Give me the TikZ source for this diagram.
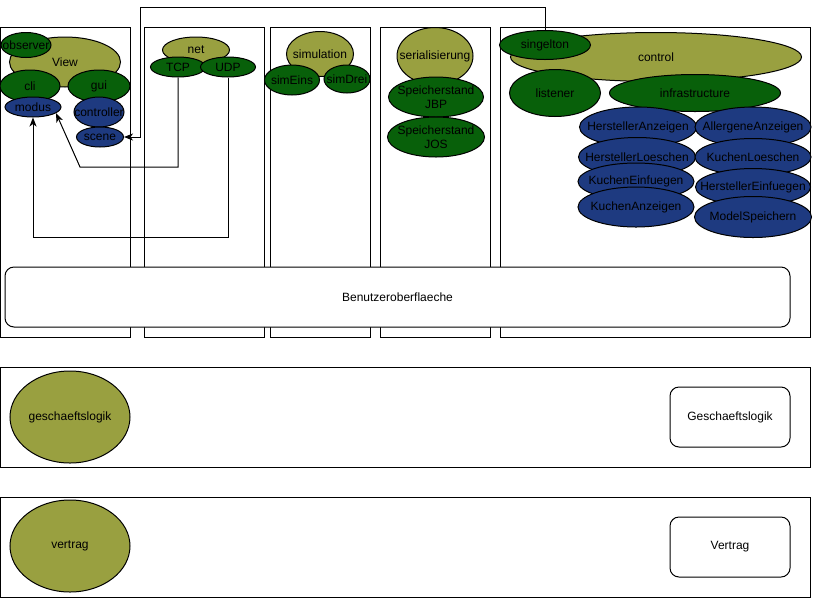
\documentclass[tikz,border=0pt]{standalone}
\usepackage{fontspec}
\setmainfont{Liberation Sans}
\usepackage{tikz}
\usetikzlibrary{arrows,arrows.meta,shapes,positioning}
\definecolor{pkolive}{RGB}{153,160,64}
\definecolor{pkgreen}{RGB}{8,96,10}
\definecolor{pkblue}{RGB}{30,58,128}
\tikzstyle{panel} = [draw, line width=1pt, anchor=north west, inner sep=0pt]
\tikzstyle{layerbox} = [draw, line width=1pt, rounded corners=9pt, fill=white, inner sep=0pt]
\tikzstyle{pkg} = [ellipse, draw, line width=1pt, inner sep=-30pt, align=center]
\tikzstyle{olivepkg} = [pkg, fill=pkolive]
\tikzstyle{greenpkg} = [pkg, fill=pkgreen]
\tikzstyle{bluepkg} = [pkg, fill=pkblue]
\tikzstyle{uses} = [line width=1pt,->,>={Stealth[length=9pt,width=7pt,inset=2.5pt]}]

\begin{document}
\begin{tikzpicture}[x=1pt, y=-1pt, font=\fontsize{12}{14}\selectfont]
\useasboundingbox (0,0) rectangle (813,598);

% Columns of the top layer
\node[panel, minimum width=130pt, minimum height=310pt] (viewcol) at (0,27) {};
\node[panel, minimum width=120pt, minimum height=310pt] (netcol) at (144,27) {};
\node[panel, minimum width=100pt, minimum height=310pt] (simcol) at (270,27) {};
\node[panel, minimum width=110pt, minimum height=310pt] (sercol) at (380,27) {};
\node[panel, minimum width=310pt, minimum height=310pt] (ctrlcol) at (500,27) {};
\node[layerbox, minimum width=785pt, minimum height=60pt] (ui) at (397.5,297) {Benutzeroberflaeche};

% View
\node[olivepkg, minimum width=111pt, minimum height=50pt] (view) at (65,62) {View};
\node[greenpkg, minimum width=50pt, minimum height=25pt] (observer) at (26,45) {observer};
\node[greenpkg, minimum width=60pt, minimum height=32pt] (cli) at (30,86) {cli};
\node[greenpkg, minimum width=62pt, minimum height=32pt] (gui) at (99,86) {gui};
\node[bluepkg, minimum width=56pt, minimum height=20pt] (modus) at (33,107) {modus};
\node[bluepkg, minimum width=50pt, minimum height=30pt] (controller) at (99,112) {controller};
\node[bluepkg, minimum width=47pt, minimum height=20pt] (scene) at (100,137) {scene};

% net
\node[olivepkg, minimum width=67pt, minimum height=26pt] (net) at (196,50) {net};
\node[greenpkg, minimum width=55pt, minimum height=20pt] (tcp) at (178,67) {TCP};
\node[greenpkg, minimum width=55pt, minimum height=20pt] (udp) at (228,67) {UDP};

% simulation
\node[olivepkg, minimum width=67pt, minimum height=45pt] (simulation) at (320,54) {simulation};
\node[greenpkg, minimum width=55pt, minimum height=30pt] (simeins) at (292,80) {simEins};
\node[greenpkg, minimum width=46pt, minimum height=28pt] (simdrei) at (347,79) {simDrei};

% serialisierung
\node[olivepkg, minimum width=76pt, minimum height=57pt] (serial) at (435,56) {serialisierung};
\node[greenpkg, minimum width=95pt, minimum height=40pt] (jbp) at (436,97) {Speicherstand\\JBP};
\node[greenpkg, minimum width=97pt, minimum height=40pt] (jos) at (436,137) {Speicherstand\\JOS};

% control
\node[olivepkg, minimum width=291pt, minimum height=49pt] (control) at (656,57) {control};
\node[greenpkg, minimum width=91pt, minimum height=29pt] (singelton) at (545,45) {singelton};
\node[greenpkg, minimum width=91pt, minimum height=47pt] (listener) at (555,93) {listener};
\node[greenpkg, minimum width=171pt, minimum height=37pt] (infra) at (695,93) {infrastructure};
\node[bluepkg, minimum width=117pt, minimum height=40pt] (hanzeigen) at (638,127) {HerstellerAnzeigen};
\node[bluepkg, minimum width=116pt, minimum height=40pt] (aanzeigen) at (753,127) {AllergeneAnzeigen};
\node[bluepkg, minimum width=117pt, minimum height=39pt] (hloeschen) at (637,157) {HerstellerLoeschen};
\node[bluepkg, minimum width=116pt, minimum height=37pt] (kloeschen) at (753,157) {KuchenLoeschen};
\node[bluepkg, minimum width=116pt, minimum height=37pt] (keinfuegen) at (636,181.5) {KuchenEinfuegen};
\node[bluepkg, minimum width=115pt, minimum height=37pt] (heinfuegen) at (753,187) {HerstellerEinfuegen};
\node[bluepkg, minimum width=116pt, minimum height=40pt] (kanzeigen) at (636,207) {KuchenAnzeigen};
\node[bluepkg, minimum width=117pt, minimum height=41pt] (mspeichern) at (753,217) {ModelSpeichern};

% Dependencies
\coordinate (topbend) at (140,7);
\coordinate (tcpbend) at (80,167);
\coordinate (udpbend) at (33,237);
\draw[uses] (singelton.north) |- (topbend) |- (scene.east);
\draw[uses] (tcp.south) |- (tcpbend) -- (modus.-15);
\draw[uses] (udp.south) |- (udpbend) -- (modus.south);

% Geschaeftslogik layer
\node[panel, minimum width=810pt, minimum height=100pt] (logiklayer) at (0,367) {};
\node[olivepkg, minimum width=120pt, minimum height=92pt] (geschaeftslogik) at (70,417) {geschaeftslogik};
\node[layerbox, minimum width=120pt, minimum height=60pt] (logikbox) at (730,417) {Geschaeftslogik};

% Vertrag layer
\node[panel, minimum width=810pt, minimum height=100pt] (vertraglayer) at (0,497) {};
\node[olivepkg, minimum width=120pt, minimum height=92pt] (vertrag) at (70,546) {vertrag};
\node[layerbox, minimum width=120pt, minimum height=60pt] (vertragbox) at (730,547) {Vertrag};
\end{tikzpicture}
\end{document}
